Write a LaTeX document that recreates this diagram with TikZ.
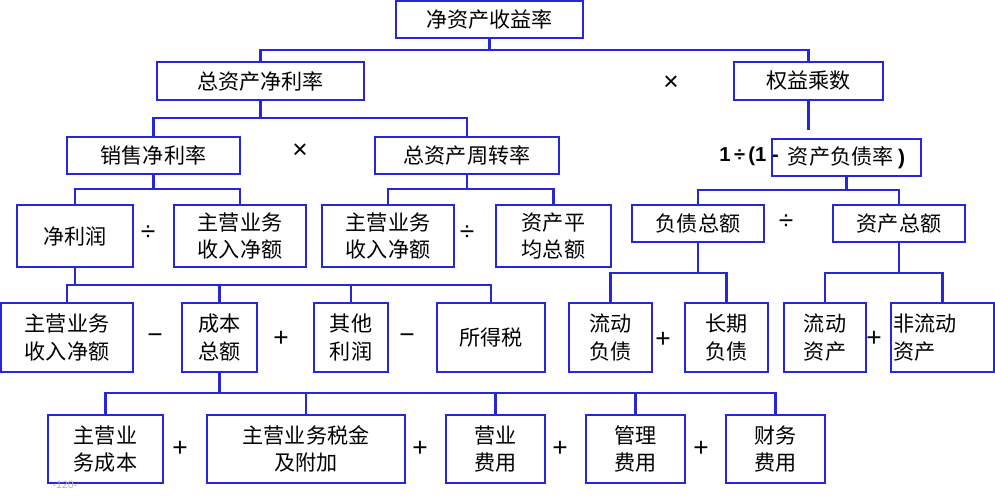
\documentclass[tikz,border=0pt]{standalone}
\usepackage{fontspec}
\setmainfont{Noto Sans CJK SC}
\newfontfamily\arialfont{Liberation Sans}
\definecolor{boxblue}{RGB}{38,38,218}
\usepackage{tikz}

\begin{document}
\begin{tikzpicture}[x=0.02cm,y=-0.02cm,
    box/.style={draw=boxblue,line width=1.2pt,fill=white,inner sep=0pt,align=center,
        font=\fontsize{12}{15.5}\selectfont},
    link/.style={draw=boxblue,line width=1.2pt},
    op/.style={font=\arialfont\fontsize{15}{15}\selectfont}]
        \useasboundingbox (0,0) rectangle (995,500);

        % top level
        \node[box,minimum width=3.74cm,minimum height=0.74cm] (roe) at (489.5,19.5) {净资产收益率};
        \node[box,minimum width=4.14cm,minimum height=0.76cm] (zcjll) at (260.5,81) {总资产净利率};
        \node[box,minimum width=2.98cm,minimum height=0.76cm] (qycs) at (808.5,81) {权益乘数};
        \node[op] (x1) at (671,83) {×};

        % second level
        \node[box,minimum width=3.46cm,minimum height=0.74cm] (xsjll) at (153.5,155.5) {销售净利率};
        \node[box,minimum width=3.68cm,minimum height=0.74cm] (zczzl) at (467,155.5) {总资产周转率};
        \node[op] (x2) at (300,151) {×};
        \node[box,minimum width=2.98cm,minimum height=0.74cm] (zcfzl) at (846.5,157.5) {资产负债率 {\arialfont\bfseries )}};
        \node[anchor=east,font=\arialfont\bfseries\fontsize{11.5}{12}\selectfont] (yjian) at (785,156) {1\,÷\,(1 -};

        % third level
        \node[box,minimum width=2.32cm,minimum height=1.24cm] (jlr) at (75,236) {净利润};
        \node[box,minimum width=2.64cm,minimum height=1.24cm] (zysr1) at (240,236) {主营业务\\收入净额};
        \node[op] (d1) at (148,233) {÷};
        \node[box,minimum width=2.64cm,minimum height=1.24cm] (zysr2) at (388,236) {主营业务\\收入净额};
        \node[box,minimum width=2.30cm,minimum height=1.24cm] (zcpj) at (553.5,236) {资产平\\均总额};
        \node[op] (d2) at (467,233) {÷};
        \node[box,minimum width=2.64cm,minimum height=0.74cm] (fzze) at (698,223.5) {负债总额};
        \node[box,minimum width=2.64cm,minimum height=0.74cm] (zcze) at (899,223.5) {资产总额};
        \node[op] (d3) at (786,222) {÷};

        % fourth level
        \node[box,minimum width=2.64cm,minimum height=1.38cm] (zysr3) at (67,337.5) {主营业务\\收入净额};
        \node[box,minimum width=1.50cm,minimum height=1.38cm] (cbze) at (219.5,337.5) {成本\\总额};
        \node[box,minimum width=1.48cm,minimum height=1.38cm] (qtlr) at (351,337.5) {其他\\利润};
        \node[box,minimum width=2.16cm,minimum height=1.38cm] (sds) at (491,337.5) {所得税};
        \node[op] (m1) at (155,339) {−};
        \node[op] (p1) at (281,339) {+};
        \node[op] (m2) at (407,339) {−};
        \node[box,minimum width=1.66cm,minimum height=1.38cm] (ldfz) at (610.5,337.5) {流动\\负债};
        \node[box,minimum width=1.66cm,minimum height=1.38cm] (cqfz) at (726.5,337.5) {长期\\负债};
        \node[op] (p2) at (663,340) {+};
        \node[box,minimum width=1.64cm,minimum height=1.38cm] (ldzc) at (825,337.5) {流动\\资产};
        \node[box,minimum width=2.06cm,minimum height=1.38cm,align=left,text width=1.98cm] (fldzc) at (942.5,337.5) {非流动\\资产};
        \node[op] (p3) at (874,339) {+};

        % fifth level
        \node[box,minimum width=2.30cm,minimum height=1.36cm] (zycb) at (105.5,449) {主营业\\务成本};
        \node[box,minimum width=3.96cm,minimum height=1.36cm] (sjfj) at (306,449) {主营业务税金\\及附加};
        \node[box,minimum width=1.98cm,minimum height=1.36cm] (yyfy) at (495.5,449) {营业\\费用};
        \node[box,minimum width=1.98cm,minimum height=1.36cm] (glfy) at (635.5,449) {管理\\费用};
        \node[box,minimum width=1.98cm,minimum height=1.36cm] (cwfy) at (775.5,449) {财务\\费用};
        \node[op] (p4) at (180,449) {+};
        \node[op] (p5) at (420,449) {+};
        \node[op] (p6) at (560,449) {+};
        \node[op] (p7) at (701,449) {+};

        % page number
        \node[text=gray!60,font=\arialfont\fontsize{6}{6}\selectfont] (pg) at (65,485) {-120-};

        % connectors
        \coordinate (b0) at (489.5,50);
        \draw[link] (roe) -- (b0);
        \draw[link] (zcjll.north) |- (b0) -| (qycs.north);

        \coordinate (b1) at (260.5,118);
        \draw[link] (zcjll) -- (b1);
        \draw[link] (xsjll.north) |- (b1) -| (zczzl.north);

        \coordinate (b2) at (808.5,130);
        \draw[link] (qycs) -- (b2);

        \coordinate (b3) at (153.5,189);
        \draw[link] (xsjll) -- (b3);
        \draw[link] (jlr.north) |- (b3) -| (zysr1.north);

        \coordinate (b4) at (467,189);
        \draw[link] (zczzl) -- (b4);
        \draw[link] (zysr2.north) |- (b4) -| (zcpj.north);

        \coordinate (b5) at (846.5,190);
        \draw[link] (zcfzl) -- (b5);
        \draw[link] (fzze.north) |- (b5) -| (zcze.north);

        \coordinate (b6) at (75,285);
        \draw[link] (jlr) -- (b6);
        \draw[link] (zysr3.north) |- (b6) -| (sds.north);
        \draw[link] (cbze.north) -- (cbze.north |- b6);
        \draw[link] (qtlr.north) -- (qtlr.north |- b6);

        \coordinate (b7) at (698,273);
        \draw[link] (fzze) -- (b7);
        \draw[link] (ldfz.north) |- (b7) -| (cqfz.north);

        \coordinate (b8) at (899,273);
        \draw[link] (zcze) -- (b8);
        \draw[link] (ldzc.north) |- (b8) -| (fldzc.north);

        \coordinate (b9) at (219.5,393);
        \draw[link] (cbze) -- (b9);
        \draw[link] (zycb.north) |- (b9) -| (cwfy.north);
        \draw[link] (sjfj.north) -- (sjfj.north |- b9);
        \draw[link] (yyfy.north) -- (yyfy.north |- b9);
        \draw[link] (glfy.north) -- (glfy.north |- b9);
    \end{tikzpicture}
\end{document}
